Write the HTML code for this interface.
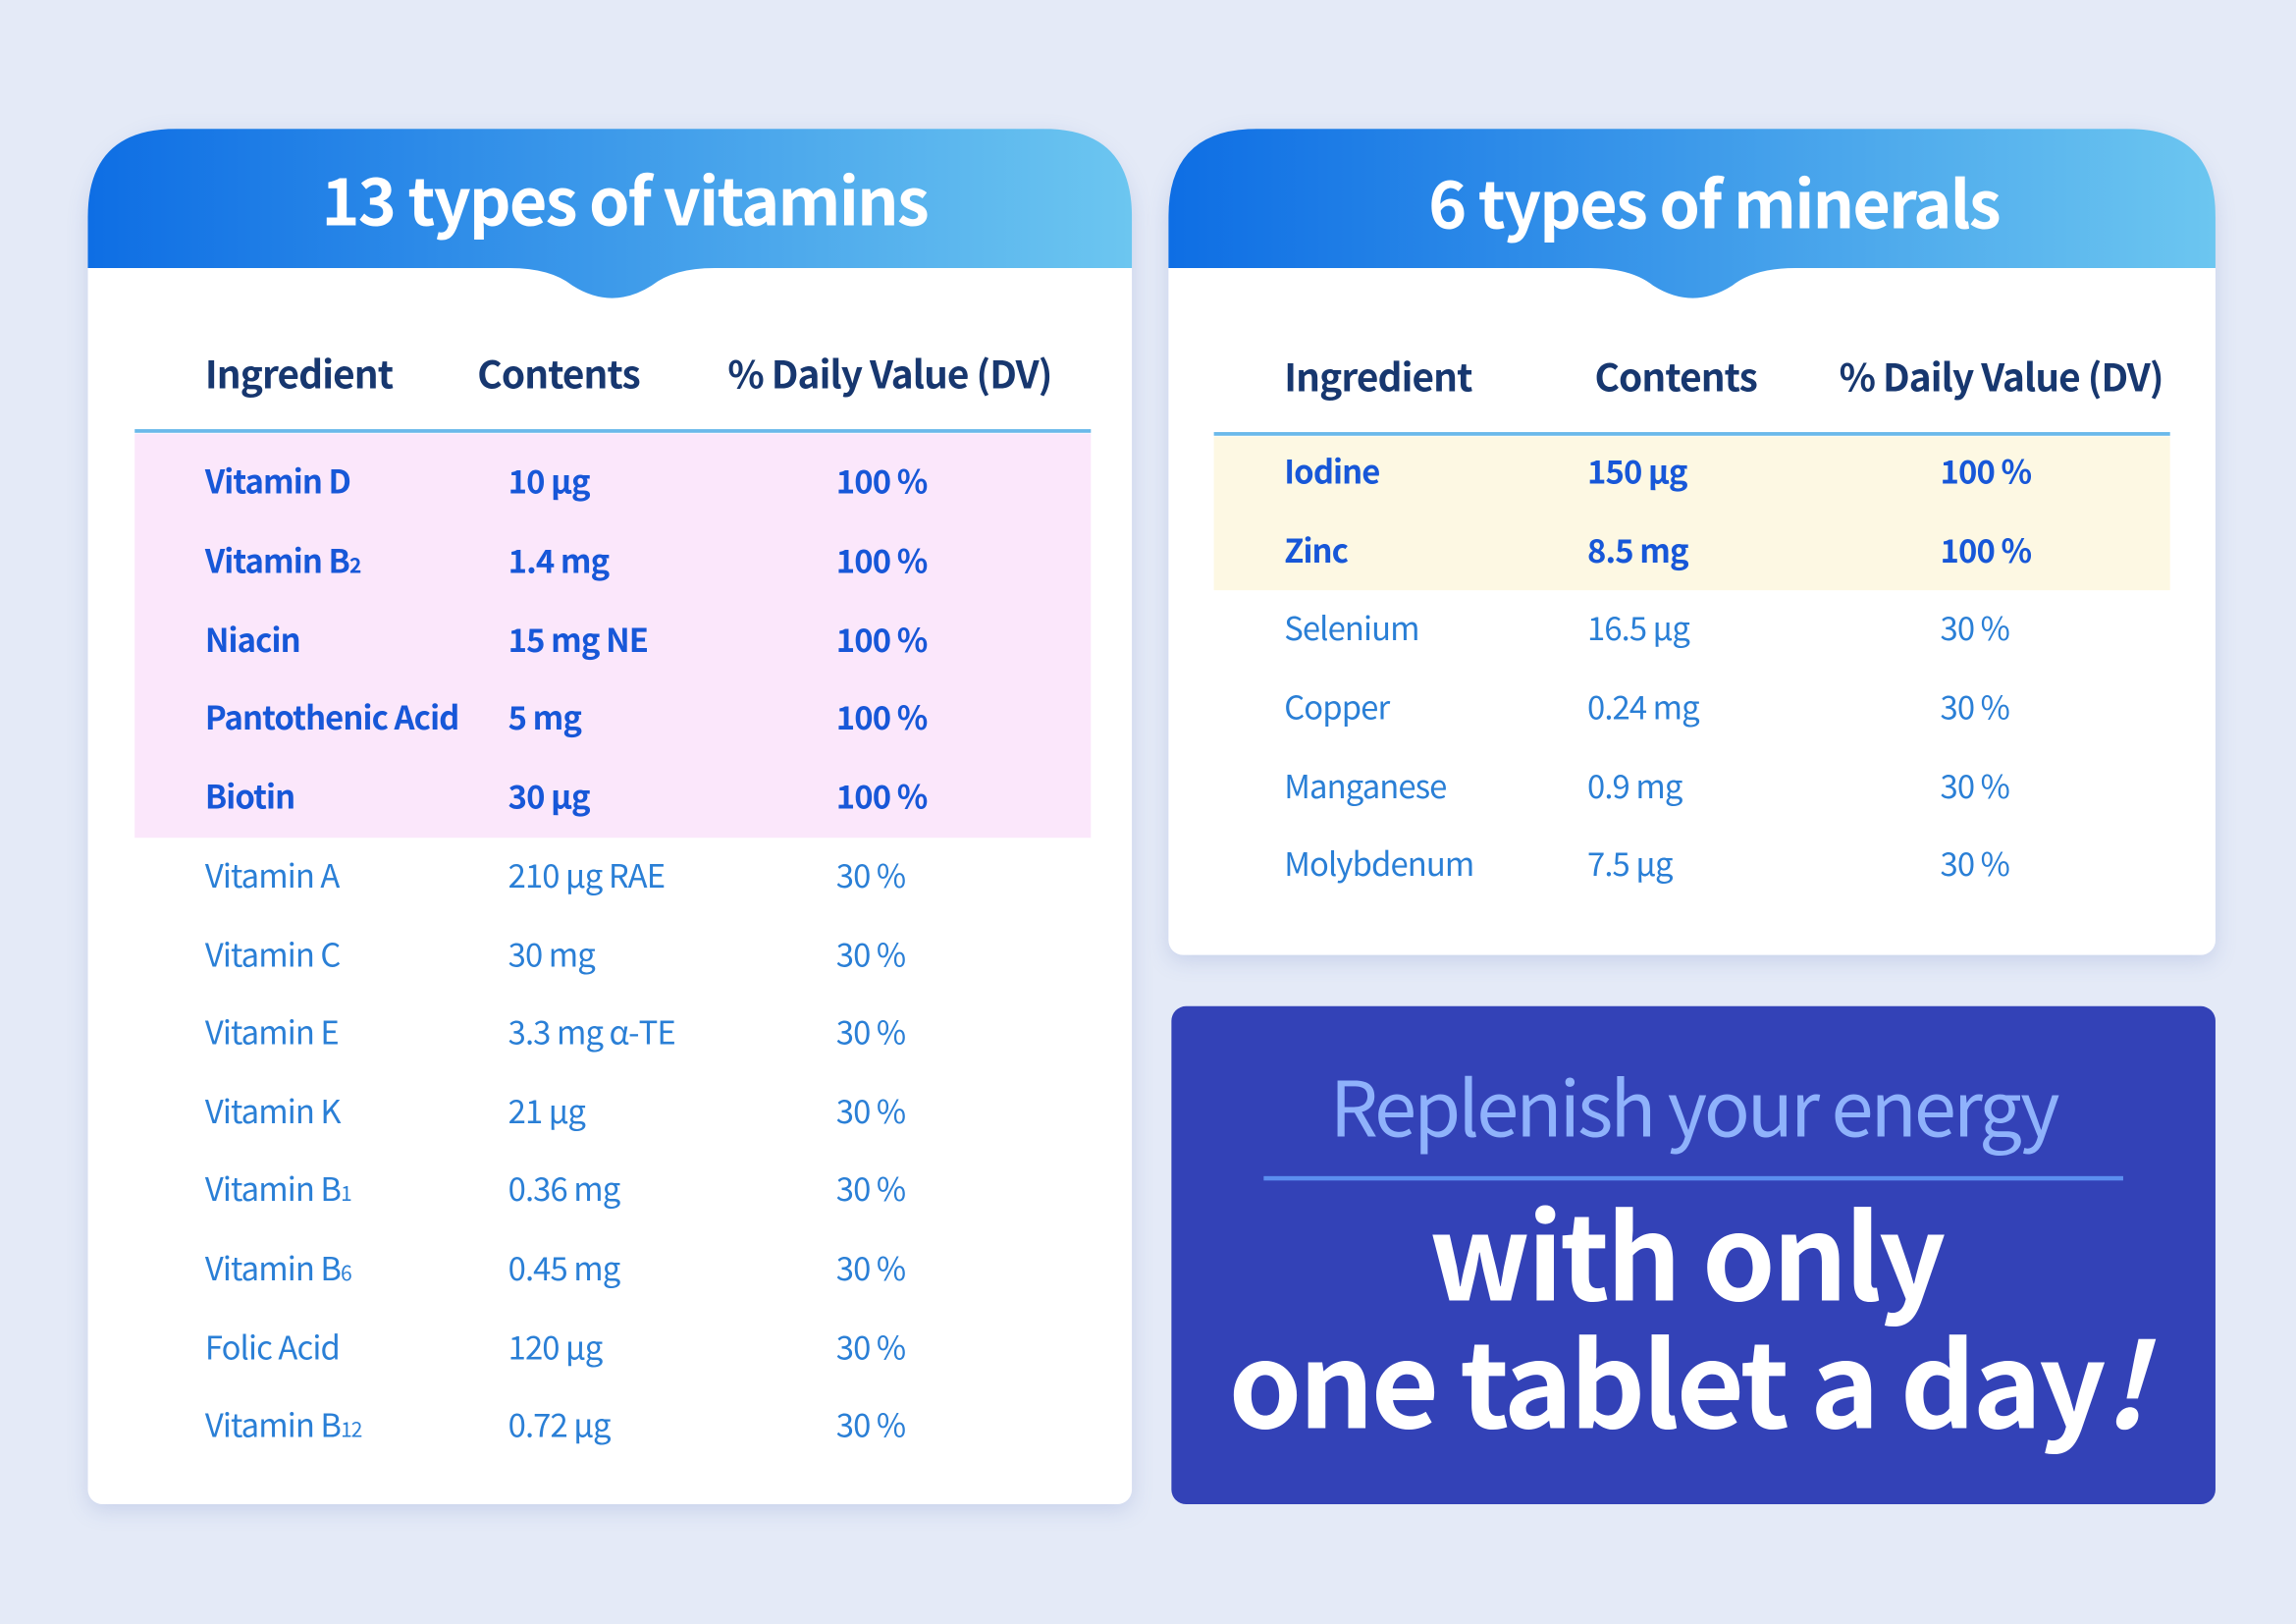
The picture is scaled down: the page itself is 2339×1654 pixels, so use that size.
<!DOCTYPE html>
<html><head><meta charset="utf-8"><style>
html,body{margin:0;padding:0;width:2339px;height:1654px;overflow:hidden;background:#e4eaf7}
#w{position:absolute;left:0;top:0;width:1568px;height:1109px;transform:scale(1.49171);transform-origin:0 0;font-family:"Noto Sans CJK JP","Liberation Sans",sans-serif}
.card{position:absolute;background:#fff;border-radius:60px 60px 10px 10px;box-shadow:0 4px 14px rgba(120,140,200,.25);overflow:visible}
.t{position:absolute;white-space:nowrap;line-height:30px;height:30px;margin-top:-16px;letter-spacing:-0.6px}
.h{font-weight:700;font-size:26px;color:#17376f}
.b{font-weight:700;font-size:22px;color:#1757d8}
.n{font-weight:400;font-size:22px;color:#2a7fd6}
.title{position:absolute;color:#fff;font-weight:700;font-size:44.5px;line-height:60px;text-align:center;letter-spacing:-1.2px}
</style></head><body><div id="w">
<div class="card" style="left:60px;top:88px;width:713px;height:939px"></div>
<div class="card" style="left:798px;top:88px;width:715px;height:564px"></div>
<svg width="1568" height="1109" style="position:absolute;left:0;top:0">
<defs><linearGradient id="g1" x1="60" x2="773" gradientUnits="userSpaceOnUse"><stop offset="0" stop-color="#0e6ee4"/><stop offset="1" stop-color="#6cc6f0"/></linearGradient>
<linearGradient id="g2" x1="798" x2="1513" gradientUnits="userSpaceOnUse"><stop offset="0" stop-color="#0e6ee4"/><stop offset="1" stop-color="#6cc6f0"/></linearGradient></defs>
<path d="M60 183 L60 148 Q60 88 120 88 L713 88 Q773 88 773 148 L773 183 L488 183 Q460 183 445 195 Q418 212 391 195 Q376 183 348 183 Z" fill="url(#g1)"/>
<path d="M798 183 L798 148 Q798 88 858 88 L1453 88 Q1513 88 1513 148 L1513 183 L1226 183 Q1198 183 1183 195 Q1156 212 1129 195 Q1114 183 1086 183 Z" fill="url(#g2)"/>
<rect x="92" y="296" width="653" height="276" fill="#fbe7fb"/>
<rect x="92" y="293" width="653" height="2.5" fill="#6ab9ea"/>
<rect x="829" y="298" width="653" height="105" fill="#fdf8e3"/>
<rect x="829" y="295" width="653" height="2.5" fill="#6ab9ea"/>
<rect x="800" y="687" width="713" height="340" rx="10" fill="#3342b7"/>
<rect x="863" y="803" width="587" height="3" fill="#5b8ef0"/>
</svg>
<div class="title" style="left:60px;width:733px;top:105px">13 types of vitamins</div>
<div class="title" style="left:798px;width:745px;top:107px">6 types of minerals</div>

<div class="t h" style="left:140px;top:256px">Ingredient</div>
<div class="t h" style="left:326px;top:256px">Contents</div>
<div class="t h" style="left:497px;top:256px">% Daily Value (DV)</div>

<div class="t b" style="left:140px;top:329px">Vitamin D</div><div class="t b" style="left:347px;top:329px">10 µg</div><div class="t b" style="left:571px;top:329px">100 %</div>
<div class="t b" style="left:140px;top:383px">Vitamin B<span style="font-size:14px">2</span></div><div class="t b" style="left:347px;top:383px">1.4 mg</div><div class="t b" style="left:571px;top:383px">100 %</div>
<div class="t b" style="left:140px;top:437px">Niacin</div><div class="t b" style="left:347px;top:437px">15 mg NE</div><div class="t b" style="left:571px;top:437px">100 %</div>
<div class="t b" style="left:140px;top:490px">Pantothenic Acid</div><div class="t b" style="left:347px;top:490px">5 mg</div><div class="t b" style="left:571px;top:490px">100 %</div>
<div class="t b" style="left:140px;top:544px">Biotin</div><div class="t b" style="left:347px;top:544px">30 µg</div><div class="t b" style="left:571px;top:544px">100 %</div>

<div class="t n" style="left:140px;top:598px">Vitamin A</div><div class="t n" style="left:347px;top:598px">210 µg RAE</div><div class="t n" style="left:571px;top:598px">30 %</div>
<div class="t n" style="left:140px;top:652px">Vitamin C</div><div class="t n" style="left:347px;top:652px">30 mg</div><div class="t n" style="left:571px;top:652px">30 %</div>
<div class="t n" style="left:140px;top:705px">Vitamin E</div><div class="t n" style="left:347px;top:705px">3.3 mg α-TE</div><div class="t n" style="left:571px;top:705px">30 %</div>
<div class="t n" style="left:140px;top:759px">Vitamin K</div><div class="t n" style="left:347px;top:759px">21 µg</div><div class="t n" style="left:571px;top:759px">30 %</div>
<div class="t n" style="left:140px;top:812px">Vitamin B<span style="font-size:14px">1</span></div><div class="t n" style="left:347px;top:812px">0.36 mg</div><div class="t n" style="left:571px;top:812px">30 %</div>
<div class="t n" style="left:140px;top:866px">Vitamin B<span style="font-size:14px">6</span></div><div class="t n" style="left:347px;top:866px">0.45 mg</div><div class="t n" style="left:571px;top:866px">30 %</div>
<div class="t n" style="left:140px;top:920px">Folic Acid</div><div class="t n" style="left:347px;top:920px">120 µg</div><div class="t n" style="left:571px;top:920px">30 %</div>
<div class="t n" style="left:140px;top:973px">Vitamin B<span style="font-size:14px">12</span></div><div class="t n" style="left:347px;top:973px">0.72 µg</div><div class="t n" style="left:571px;top:973px">30 %</div>

<div class="t h" style="left:877px;top:258px">Ingredient</div>
<div class="t h" style="left:1089px;top:258px">Contents</div>
<div class="t h" style="left:1256px;top:258px">% Daily Value (DV)</div>

<div class="t b" style="left:877px;top:322px">Iodine</div><div class="t b" style="left:1084px;top:322px">150 µg</div><div class="t b" style="left:1325px;top:322px">100 %</div>
<div class="t b" style="left:877px;top:376px">Zinc</div><div class="t b" style="left:1084px;top:376px">8.5 mg</div><div class="t b" style="left:1325px;top:376px">100 %</div>
<div class="t n" style="left:877px;top:429px">Selenium</div><div class="t n" style="left:1084px;top:429px">16.5 µg</div><div class="t n" style="left:1325px;top:429px">30 %</div>
<div class="t n" style="left:877px;top:483px">Copper</div><div class="t n" style="left:1084px;top:483px">0.24 mg</div><div class="t n" style="left:1325px;top:483px">30 %</div>
<div class="t n" style="left:877px;top:537px">Manganese</div><div class="t n" style="left:1084px;top:537px">0.9 mg</div><div class="t n" style="left:1325px;top:537px">30 %</div>
<div class="t n" style="left:877px;top:590px">Molybdenum</div><div class="t n" style="left:1084px;top:590px">7.5 µg</div><div class="t n" style="left:1325px;top:590px">30 %</div>

<div style="position:absolute;left:800px;width:713px;top:719px;text-align:center;color:#8fb2fb;font-size:52px;line-height:70px;letter-spacing:-2px">Replenish your energy</div>
<div style="position:absolute;left:795px;width:713px;top:811px;text-align:center;color:#fff;font-weight:700;font-size:80px;line-height:87px;letter-spacing:-2px">with only<br>one tablet a day<i>!</i></div>
</div></body></html>
